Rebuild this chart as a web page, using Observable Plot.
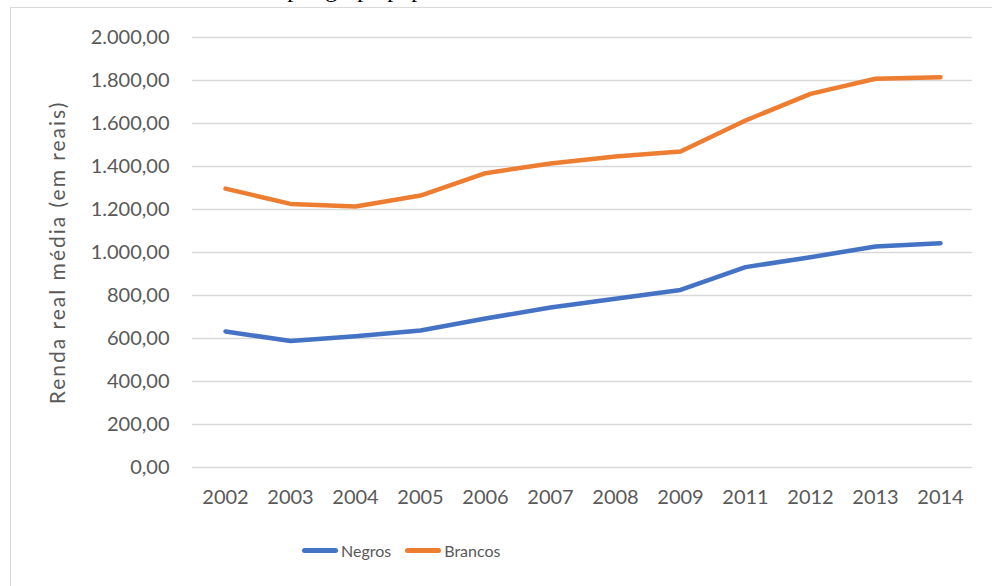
<!DOCTYPE html>
<html lang="pt-BR">
<head>
<meta charset="utf-8">
<script src="https://cdn.jsdelivr.net/npm/d3@7"></script>
<script src="https://cdn.jsdelivr.net/npm/@observablehq/plot@0.6"></script>
<style>
  html, body { margin: 0; padding: 0; background: #fff; }
  #page { position: relative; width: 992px; height: 586px; overflow: hidden; background: #fff; }
  #title {
    position: absolute; left: 0; top: 0; width: 992px; height: 6px; overflow: hidden;
  }
  #title span {
    position: absolute; left: -2px; top: -23px; white-space: nowrap;
    font-family: "Liberation Serif", "DejaVu Serif", serif; font-size: 24px; line-height: 24px; color: #000;
  }
  #frame {
    position: absolute; left: 10px; top: 7px; width: 1000px; height: 600px;
    border-left: 1.5px solid #d9d9d9; border-top: 1.5px solid #d9d9d9; box-sizing: border-box;
  }
  #chart { position: absolute; left: 0; top: 0; }
  #legend {
    position: absolute; left: 302px; top: 541px; display: flex; align-items: center;
    font-family: Lato, sans-serif; font-size: 16px; color: #595959;
  }
  #legend .item { display: flex; align-items: center; margin-right: 14px; }
  #legend .sw { width: 36px; height: 5px; border-radius: 3px; margin-right: 3px; }
</style>
</head>
<body>
<div id="page">
  <div id="title"><span>Gráfico 6 – Renda real média por grupo populacional</span></div>
  <div id="frame"></div>
  <div id="chart"></div>
  <div id="legend"></div>
</div>
<script>
// Survey years (2010 has no observation)
const years = ["2002", "2003", "2004", "2005", "2006", "2007", "2008", "2009", "2011", "2012", "2013", "2014"];
// Average real income, in reais
const negros = [633, 588, 611, 637, 693, 744, 785, 826, 932, 978, 1028, 1043];
const brancos = [1297, 1226, 1214, 1265, 1369, 1414, 1447, 1470, 1614, 1738, 1808, 1815];
const seriesNames = ["Negros", "Brancos"];
const seriesColors = ["#4472C4", "#ED7D31"];
const yTicks = [0, 200, 400, 600, 800, 1000, 1200, 1400, 1600, 1800, 2000];

const rows = [
  ...years.map((year, i) => ({year, value: negros[i], series: "Negros"})),
  ...years.map((year, i) => ({year, value: brancos[i], series: "Brancos"}))
];

const ptBR = d3.formatLocale({decimal: ",", thousands: ".", grouping: [3], currency: ["R$ ", ""]});
const fmt = ptBR.format(",.2f");

const chart = Plot.plot({
  width: 992,
  height: 520,
  marginLeft: 192,
  marginRight: 20,
  marginTop: 37,
  marginBottom: 53,
  style: {fontFamily: "Lato, sans-serif", fontSize: "20px", color: "#595959", background: "transparent"},
  x: {type: "point", domain: years, padding: 0.5, label: null},
  y: {domain: [0, 2000], label: null},
  color: {domain: seriesNames, range: seriesColors},
  marks: [
    Plot.gridY(yTicks, {stroke: "#d9d9d9", strokeOpacity: 1, strokeWidth: 1.5}),
    Plot.axisY(yTicks, {
      tickSize: 0, tickPadding: 23, tickFormat: fmt,
      label: "Renda real média (em reais)", labelAnchor: "center", labelArrow: "none", labelOffset: 142
    }),
    Plot.axisX({tickSize: 0, tickPadding: 22, label: null}),
    Plot.line(rows, {
      x: "year", y: "value", z: "series", stroke: "series",
      strokeWidth: 4.5, strokeLinecap: "round", strokeLinejoin: "round"
    })
  ]
});

// Axis title: slightly larger and more open than the tick labels
d3.select(chart).selectAll('[aria-label="y-axis label"] text')
  .style("font-size", "21px")
  .style("letter-spacing", "2px");

document.getElementById("chart").appendChild(chart);

const legend = document.getElementById("legend");
seriesNames.forEach((name, i) => {
  const item = document.createElement("div");
  item.className = "item";
  const sw = document.createElement("div");
  sw.className = "sw";
  sw.style.background = seriesColors[i];
  const label = document.createElement("span");
  label.textContent = name;
  item.appendChild(sw);
  item.appendChild(label);
  legend.appendChild(item);
});
</script>
</body>
</html>
